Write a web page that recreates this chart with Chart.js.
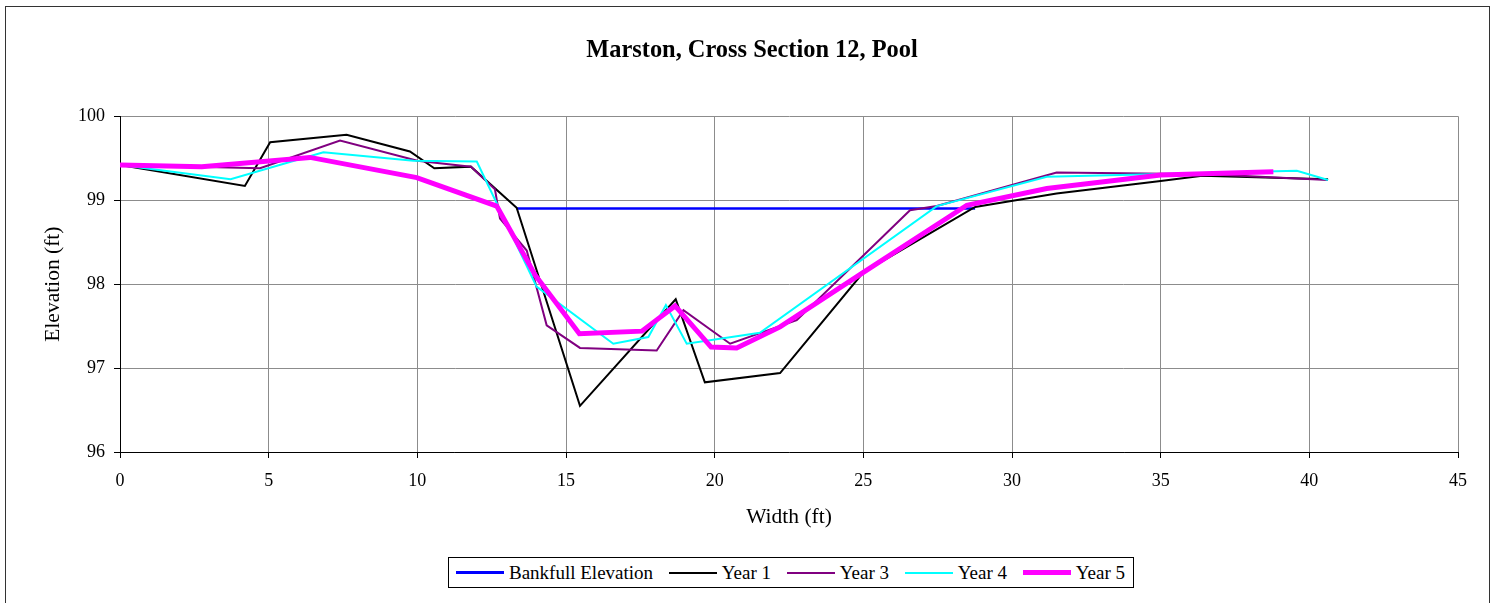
<!DOCTYPE html>
<html>
<head>
<meta charset="utf-8">
<title>Marston, Cross Section 12, Pool</title>
<script src="https://cdn.jsdelivr.net/npm/chart.js@4/dist/chart.umd.min.js"></script>
<style>
  html, body { margin: 0; padding: 0; background: #fff; overflow: hidden; }
  .wrap { position: relative; width: 1490px; height: 603px; }
  canvas { position: absolute; left: 0; top: 0; }
  .frame { position: absolute; left: 5px; top: 6px; width: 1483px; height: 700px; border: 1px solid #333; pointer-events: none; }
  .legend { position: absolute; left: 448px; top: 557px; width: 669px; height: 29px; border: 1px solid #000; padding: 0 8px 0 7px;
    display: flex; align-items: center; justify-content: space-between; font-family: 'Liberation Serif', 'Times New Roman', serif; font-size: 19px; color: #000; background: #fff; }
  .legend .item { display: flex; align-items: center; white-space: nowrap; }
  .legend .swatch { display: inline-block; width: 48px; margin-right: 5px; }
</style>
</head>
<body>
<div class="wrap">
  <canvas id="chart" width="1490" height="603"></canvas>
  <div class="frame"></div>
  <div class="legend" id="legend"></div>
</div>
<script>
// widths (ft) and elevations (ft)
const bankfullX = [13.34, 28.76];
const bankfullY = [98.9, 98.9];

const year1X = [0, 4.2, 5.05, 7.62, 9.75, 10.57, 11.8, 13.34, 15.47, 18.69, 19.67, 22.2, 25.0, 28.76, 31.5, 35.0, 36.4, 40.63];
const year1Y = [99.42, 99.17, 99.69, 99.78, 99.58, 99.38, 99.4, 98.91, 96.55, 97.82, 96.83, 96.94, 98.14, 98.92, 99.08, 99.23, 99.29, 99.25];

const year3X = [0, 4.71, 7.4, 10.0, 11.8, 12.61, 12.78, 13.68, 14.35, 15.47, 18.05, 18.95, 20.52, 22.76, 26.57, 27.47, 31.5, 36.6, 40.63];
const year3Y = [99.42, 99.38, 99.71, 99.47, 99.4, 99.13, 98.78, 98.4, 97.51, 97.24, 97.21, 97.69, 97.29, 97.57, 98.88, 98.93, 99.33, 99.31, 99.24];

const year4X = [0, 3.72, 6.84, 9.87, 12.0, 14.01, 16.59, 17.77, 18.36, 19.06, 21.52, 27.47, 31.17, 39.58, 40.63];
const year4Y = [99.42, 99.25, 99.57, 99.47, 99.46, 97.97, 97.29, 97.37, 97.75, 97.29, 97.42, 98.93, 99.28, 99.35, 99.24];

const year5X = [0, 2.75, 6.39, 9.98, 12.67, 13.96, 15.45, 17.55, 18.67, 19.88, 20.74, 22.2, 25.0, 28.48, 31.17, 35.0, 38.79];
const year5Y = [99.42, 99.4, 99.51, 99.27, 98.93, 98.11, 97.41, 97.44, 97.74, 97.25, 97.24, 97.49, 98.14, 98.94, 99.14, 99.3, 99.34];

const seriesLabels = ['Bankfull Elevation', 'Year 1', 'Year 3', 'Year 4', 'Year 5'];
const xTicks = { min: 0, max: 45, step: 5 };
const yTicks = { min: 96, max: 100, step: 1 };

const serif = "'Liberation Serif', 'Times New Roman', serif";

function points(xs, ys) {
  return xs.map((x, i) => ({ x, y: ys[i] }));
}

function lineSet(label, xs, ys, color, width, order) {
  return { label, data: points(xs, ys), borderColor: color, backgroundColor: color, borderWidth: width, pointRadius: 0, tension: 0, fill: false, order };
}

// the title sits centred on the whole frame, not only on the plot
const centreTitle = {
  id: 'centreTitle',
  afterLayout(chart) {
    if (chart.titleBlock) {
      chart.titleBlock.left = 46;
      chart.titleBlock.right = 1458;
    }
  }
};

Chart.defaults.font.family = serif;
Chart.defaults.color = '#000';

const chart = new Chart(document.getElementById('chart'), {
  type: 'line',
  data: {
    datasets: [
      lineSet(seriesLabels[0], bankfullX, bankfullY, '#0000ff', 2.5, 5),
      lineSet(seriesLabels[1], year1X, year1Y, '#000000', 2, 4),
      lineSet(seriesLabels[2], year3X, year3Y, '#800080', 2, 3),
      lineSet(seriesLabels[3], year4X, year4Y, '#00ffff', 2, 2),
      lineSet(seriesLabels[4], year5X, year5Y, '#ff00ff', 5, 1)
    ]
  },
  options: {
    responsive: false,
    animation: false,
    devicePixelRatio: 1,
    layout: { padding: { left: 0, right: 32, top: 0, bottom: 71 } },
    plugins: {
      legend: { display: false },
      tooltip: { enabled: false },
      title: {
        display: true,
        text: 'Marston, Cross Section 12, Pool',
        font: { family: serif, size: 24.4, weight: 'bold' },
        color: '#000',
        padding: { top: 36, bottom: 51 }
      }
    },
    scales: {
      x: {
        type: 'linear',
        min: xTicks.min,
        max: xTicks.max,
        afterFit: (scale) => { scale.height = 80; },
        ticks: { stepSize: xTicks.step, padding: 12, maxRotation: 0, font: { size: 18 }, color: '#000' },
        grid: { color: '#8c8c8c', lineWidth: 1, tickLength: 6, tickColor: '#000' },
        border: { color: '#000', width: 1 },
        title: { display: true, text: 'Width (ft)', font: { size: 21.5 }, color: '#000', padding: { top: 0, bottom: 2 } }
      },
      y: {
        type: 'linear',
        min: yTicks.min,
        max: yTicks.max,
        afterFit: (scale) => { scale.width = 120; },
        ticks: { stepSize: yTicks.step, padding: 9, font: { size: 18 }, color: '#000' },
        grid: { color: '#8c8c8c', lineWidth: 1, tickLength: 6, tickColor: '#000' },
        border: { color: '#000', width: 1 },
        title: { display: true, text: 'Elevation (ft)', font: { size: 21.5 }, color: '#000', padding: { top: 40, bottom: 0 } }
      }
    }
  },
  plugins: [centreTitle]
});

// legend box drawn as html, built from the chart's datasets
const legend = document.getElementById('legend');
legend.innerHTML = chart.data.datasets.map((ds) =>
  `<span class="item"><span class="swatch" style="height:${ds.borderWidth}px;background:${ds.borderColor}"></span>${ds.label}</span>`
).join('');
</script>
</body>
</html>
